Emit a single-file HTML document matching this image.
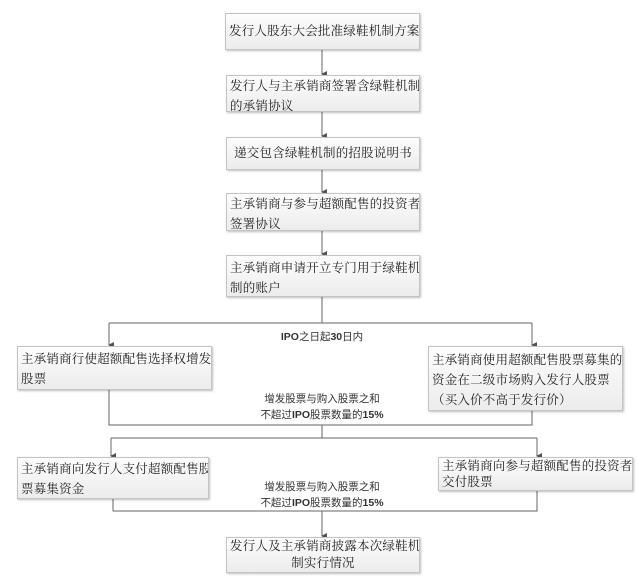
<!DOCTYPE html>
<html><head><meta charset="utf-8"><style>
body{margin:0;width:639px;height:577px;background:#fff;position:relative;overflow:hidden;font-family:"Liberation Sans","Noto Sans CJK SC",sans-serif;}
.b{position:absolute;box-sizing:border-box;border:1px solid #c4c4c4;background:linear-gradient(#fdfdfd,#ececec);box-shadow:1px 1px 2px rgba(0,0,0,.25);font-family:"Liberation Serif","Noto Serif CJK SC",serif;font-size:12.5px;letter-spacing:0.2px;line-height:20px;color:#222;padding:3px 3px;white-space:nowrap;overflow:hidden}
.c{text-align:center;padding-top:7px}
.l{position:absolute;font-size:10.5px;color:#333;text-align:center;line-height:16px;white-space:nowrap}
.l b{font-weight:bold}
svg{position:absolute;left:0;top:0}
</style></head><body>
<svg width="639" height="577">
<defs><marker id="a" markerWidth="6" markerHeight="6" refX="3" refY="5" orient="auto" markerUnits="userSpaceOnUse"><path d="M0,0 L6,0 L3,6 z" fill="#555"/></marker></defs>
<g stroke="#666" stroke-width="1" fill="none">
<line x1="322" y1="50" x2="322" y2="74" marker-end="url(#a)"/>
<line x1="322" y1="112" x2="322" y2="136" marker-end="url(#a)"/>
<line x1="322" y1="170" x2="322" y2="192" marker-end="url(#a)"/>
<line x1="322" y1="231" x2="322" y2="254" marker-end="url(#a)"/>
<line x1="322" y1="297" x2="322" y2="323"/>
<polyline points="109,323 532,323"/>
<line x1="109" y1="323" x2="109" y2="345" marker-end="url(#a)"/>
<line x1="532" y1="323" x2="532" y2="345" marker-end="url(#a)"/>
<polyline points="109,390 109,425 532,425 532,411"/>
<line x1="322" y1="425" x2="322" y2="438"/>
<line x1="111" y1="438" x2="537" y2="438"/>
<line x1="111" y1="438" x2="111" y2="456" marker-end="url(#a)"/>
<line x1="537" y1="438" x2="537" y2="456" marker-end="url(#a)"/>
<polyline points="113,499 113,511 537,511 537,490"/>
<line x1="322" y1="511" x2="322" y2="536" marker-end="url(#a)"/>
</g></svg>
<div class="b c" style="left:225px;top:13px;width:195px;height:37px">发行人股东大会批准绿鞋机制方案</div>
<div class="b" style="left:226px;top:75px;width:194px;height:37px;padding-top:0">发行人与主承销商签署含绿鞋机制<br>的承销协议</div>
<div class="b c" style="left:226px;top:137px;width:194px;height:33px;padding-top:5px">递交包含绿鞋机制的招股说明书</div>
<div class="b" style="left:226px;top:193px;width:194px;height:38px;padding-top:0">主承销商与参与超额配售的投资者<br>签署协议</div>
<div class="b" style="left:226px;top:255px;width:194px;height:42px;padding-top:2px">主承销商申请开立专门用于绿鞋机<br>制的账户</div>
<div class="l" style="left:222px;top:329px;width:200px"><b>IPO</b>之日起<b>30</b>日内</div>
<div class="b" style="left:17px;top:346px;width:195px;height:44px;padding-top:2px">主承销商行使超额配售选择权增发<br>股票</div>
<div class="b" style="left:428px;top:346px;width:195px;height:65px;padding-top:3px">主承销商使用超额配售股票募集的<br>资金在二级市场购入发行人股票<br>（买入价不高于发行价）</div>
<div class="l" style="left:222px;top:391px;width:200px">增发股票与购入股票之和<br>不超过<b>IPO</b>股票数量的<b>15%</b></div>
<div class="b" style="left:17px;top:457px;width:192px;height:42px;padding-top:1px">主承销商向发行人支付超额配售股<br>票募集资金</div>
<div class="b" style="left:438px;top:457px;width:195px;height:34px;padding-top:0;line-height:16px">主承销商向参与超额配售的投资者<br>交付股票</div>
<div class="l" style="left:222px;top:479px;width:200px">增发股票与购入股票之和<br>不超过<b>IPO</b>股票数量的<b>15%</b></div>
<div class="b" style="left:226px;top:537px;width:194px;height:36px;padding-top:0;line-height:17px;text-align:center">发行人及主承销商披露本次绿鞋机<br>制实行情况</div>
</body></html>
